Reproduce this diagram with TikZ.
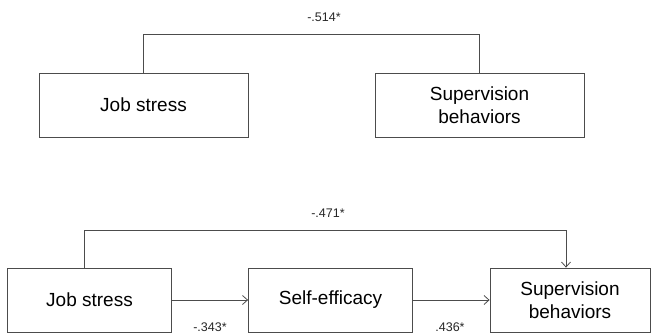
\documentclass[tikz,border=0pt]{standalone}
\usepackage{fontspec}
\setmainfont{Liberation Sans}
\usetikzlibrary{positioning, calc, arrows.meta}

\begin{document}
\begin{tikzpicture}[
    x=1pt, y=-1pt,
    >={Straight Barb[length=5pt, width=9pt]},
    var/.style={draw=black!70, line width=0.8pt, align=center, inner sep=0pt, font=\fontsize{19}{23}\selectfont},
    wide/.style={var, minimum width=209pt, minimum height=64pt},
    narrow/.style={var, minimum width=164pt, minimum height=64pt},
    link/.style={draw=black!70, line width=0.8pt},
    flow/.style={link, ->},
    coef/.style={font=\fontsize{12.5}{14}\selectfont, text=black!85, inner sep=1pt},
]
\useasboundingbox (0,0) rectangle (651,333);

% total effect
\node[wide] at (143.5,105) (js1) {Job stress};
\node[wide] at (479.5,105) (sb1) {Supervision\\behaviors};
\coordinate (topL) at ($(js1.north) + (0,-38)$);
\coordinate (topR) at (topL -| sb1.north);
\draw[link] (js1.north) -- (topL) -- (topR) -- (sb1.north);
\node[coef] at (324,17) (c514) {-.514*};

% mediation model
\node[narrow] at (89.5,300)  (js2) {Job stress};
\node[narrow] at (330.5,300) (se2) {Self-efficacy};
\node[var, minimum width=160pt, minimum height=64pt] at (570,300) (sb2) {Supervision\\behaviors};

\foreach \a/\b in {js2/se2, se2/sb2}
    \draw[flow] (\a) -- (\b);

\coordinate (botL) at ($(js2.north) + (-5,-37)$);
\coordinate (botR) at ($(botL -| sb2.north) + (-4,0)$);
\draw[flow] (botL |- js2.north) -- (botL) -- (botR) -- (botR |- sb2.north);

\node[coef] at (328,213) (c471) {-.471*};
\node[coef] at (210,327) (c343) {-.343*};
\node[coef] at (450,327) (c436) {.436*};

\end{tikzpicture}
\end{document}
